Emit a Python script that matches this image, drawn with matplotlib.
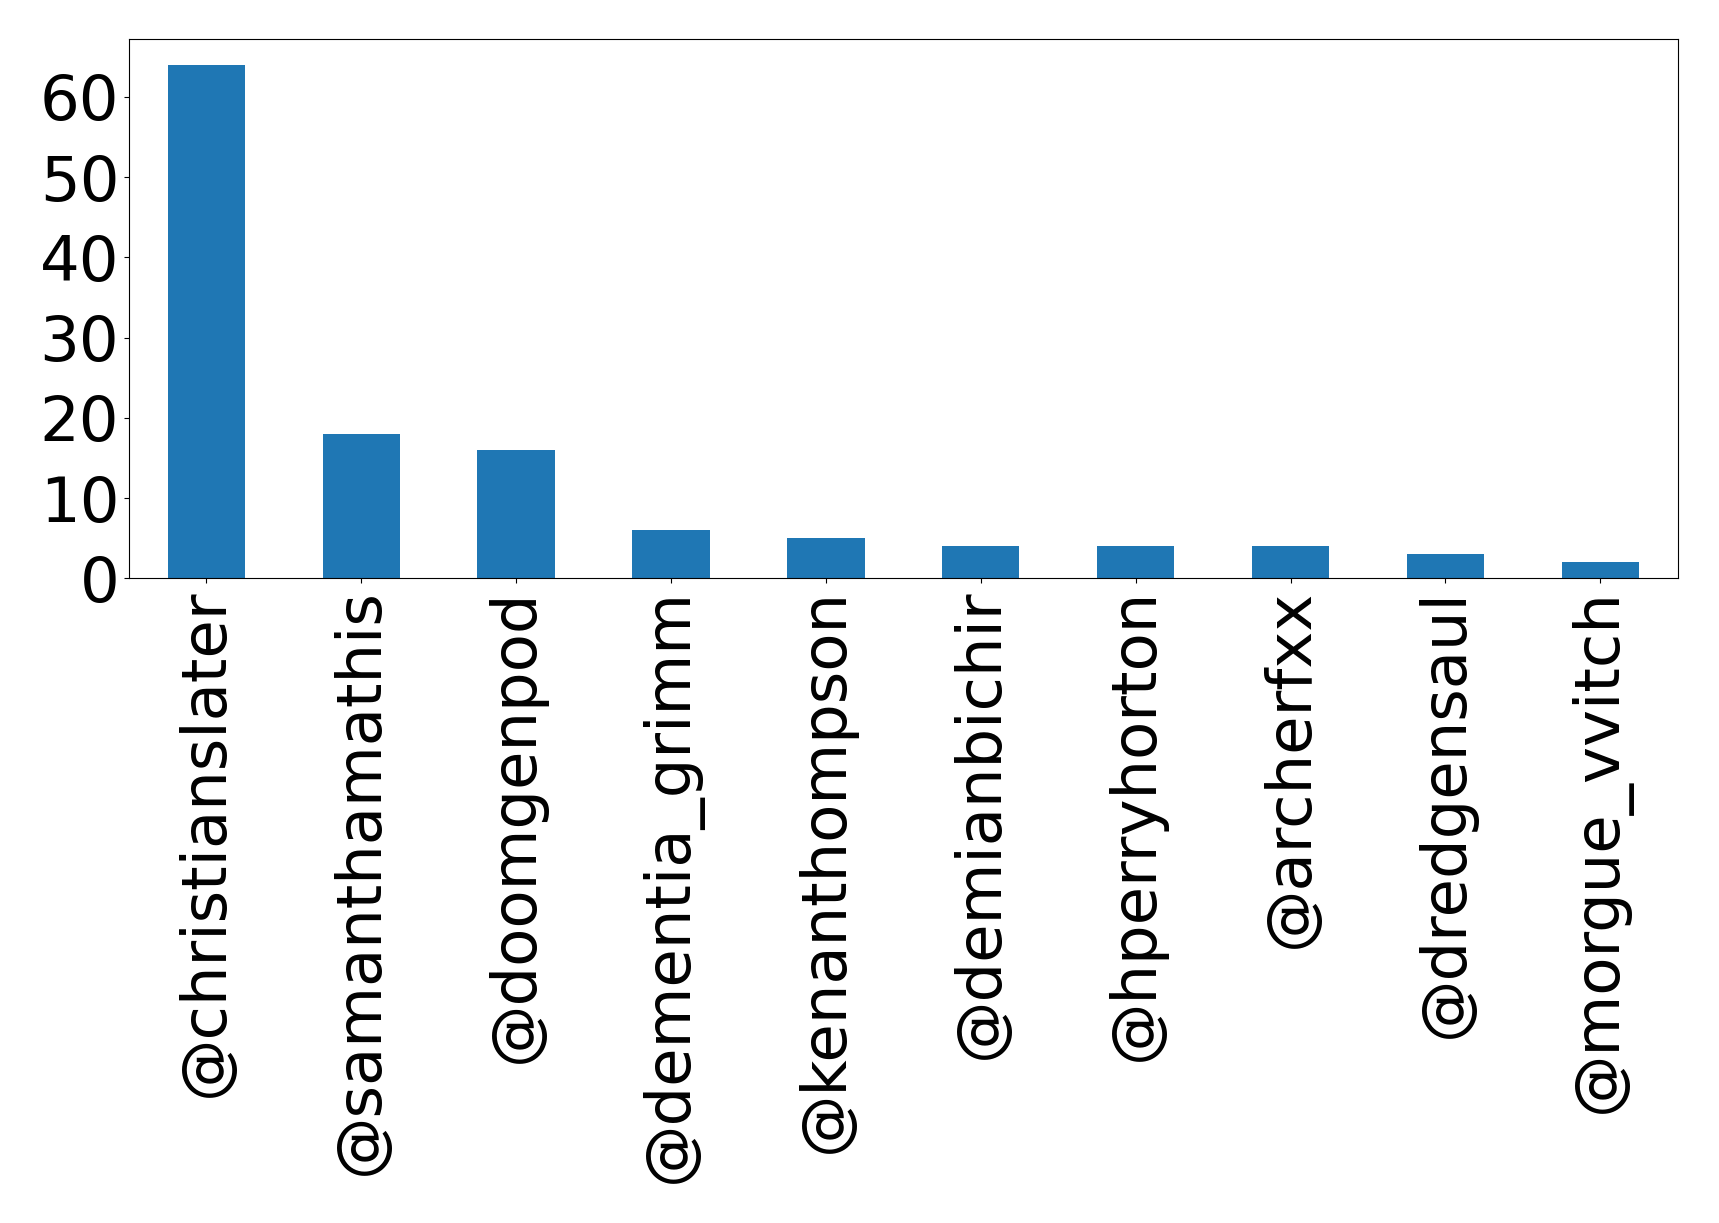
import matplotlib
matplotlib.use("Agg")
import matplotlib.pyplot as plt
import pandas as pd

users = ['@christianslater', '@samanthamathis', '@doomgenpod', '@dementia_grimm',
         '@kenanthompson', '@demianbichir', '@hperryhorton', '@archerfxx',
         '@dredgensaul', '@morgue_vvitch']
counts = [64, 18, 16, 6, 5, 4, 4, 4, 3, 2]
yticks = [0, 10, 20, 30, 40, 50, 60]

s = pd.Series(counts, index=users)

fig = plt.figure(figsize=(17.19, 12.23), dpi=100)
ax = fig.add_axes([0.075, 0.527, 0.901, 0.441])
s.plot(kind='bar', ax=ax, color='#1f77b4')
ax.set_yticks(yticks)
ax.tick_params(axis='both', labelsize=45)
plt.savefig('out.png', dpi=100)
